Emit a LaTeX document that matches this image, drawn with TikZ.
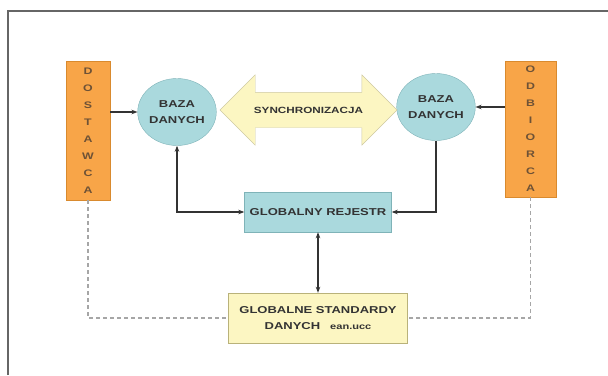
\documentclass[tikz,border=0pt]{standalone}
\usepackage{fontspec}
\setmainfont{Liberation Sans}[FakeStretch=1.3]
\usepackage{tikz}
\usetikzlibrary{shapes.geometric, shapes.arrows, arrows.meta}
\definecolor{pomar}{HTML}{F8A548}
\definecolor{pomarbrzeg}{HTML}{D98A2E}
\definecolor{pomartekst}{HTML}{6E5236}
\definecolor{cyjan}{HTML}{AAD9DD}
\definecolor{cyjanbrzeg}{HTML}{7FB3B8}
\definecolor{zolty}{HTML}{FCF6C2}
\definecolor{zoltybrzeg}{HTML}{B9B27A}
\definecolor{linia}{HTML}{333333}
\tikzset{
  font={\bfseries\fontsize{10}{16}\selectfont},
  firma/.style={draw=pomarbrzeg, fill=pomar, shape=rectangle, inner sep=0pt,
    minimum width=44pt, minimum height=139pt, align=center, text=pomartekst,
    font={\bfseries\fontsize{9.5}{17}\selectfont}},
  baza/.style={draw=cyjanbrzeg, fill=cyjan, shape=ellipse, inner sep=0pt,
    minimum width=75pt, minimum height=67pt, align=center, text=linia},
  synchro/.style={draw=zoltybrzeg!70, fill=zolty, shape=double arrow,
    minimum height=177pt, minimum width=70pt, double arrow head extend=17.5pt,
    inner xsep=6pt, inner ysep=14pt, text height=7pt, text depth=0pt,
    text=linia, font={\bfseries\fontsize{9}{12}\selectfont}},
  rejestr/.style={draw=cyjanbrzeg, fill=cyjan, shape=rectangle, inner sep=0pt,
    minimum width=147pt, minimum height=40pt, text=linia},
  standard/.style={draw=zoltybrzeg, fill=zolty, shape=rectangle, inner sep=0pt,
    minimum width=179pt, minimum height=50pt, align=center, text=linia},
  strzalka/.style={draw=linia, line width=1.3pt},
  kreska/.style={draw=gray!70, line width=1.3pt, dash pattern=on 4pt off 3pt},
  ramka/.style={draw=gray!80!black, line width=1.6pt}
}

\begin{document}
\begin{tikzpicture}[x=1pt, y=-1pt]
  \useasboundingbox (0,0) rectangle (608,375);
  \draw[ramka] (8,375) -- (8,11) -- (608,11);

  \node (dost) [firma] at (88,130.5) {D\\O\\S\\T\\A\\W\\C\\A};
  \node (odb) [firma, minimum width=51pt, minimum height=136pt] at (530.5,129) {O\\D\\B\\I\\O\\R\\C\\A};
  \node (baza1) [baza] at (177,112) {BAZA\\DANYCH};
  \node (baza2) [baza] at (436,107) {BAZA\\DANYCH};
  \node (sync) [synchro] at (308.5,110) {SYNCHRONIZACJA};
  \node (rej) [rejestr] at (318,212) {GLOBALNY REJESTR};
  \node (std) [standard] at (318,318) {GLOBALNE STANDARDY\\DANYCH\quad{\fontsize{8.5}{8}\selectfont ean.ucc}};

  \draw[strzalka, -{Stealth[length=6pt]}] (dost.east |- baza1.west) -- (baza1.west);
  \draw[strzalka, -{Stealth[length=6pt]}] (odb.west |- baza2.east) -- (baza2.east);
  \draw[strzalka, {Stealth[length=6pt]}-{Stealth[length=6pt]}] (baza1.south) |- (rej.west);
  \draw[strzalka, -{Stealth[length=6pt]}] (baza2.south) |- (rej.east);
  \draw[strzalka, {Stealth[length=6pt]}-{Stealth[length=6pt]}] (rej) -- (std);
  \draw[kreska] (dost.south) |- (std.west);
  \draw[kreska] (odb.south) |- (std.east);
\end{tikzpicture}
\end{document}
